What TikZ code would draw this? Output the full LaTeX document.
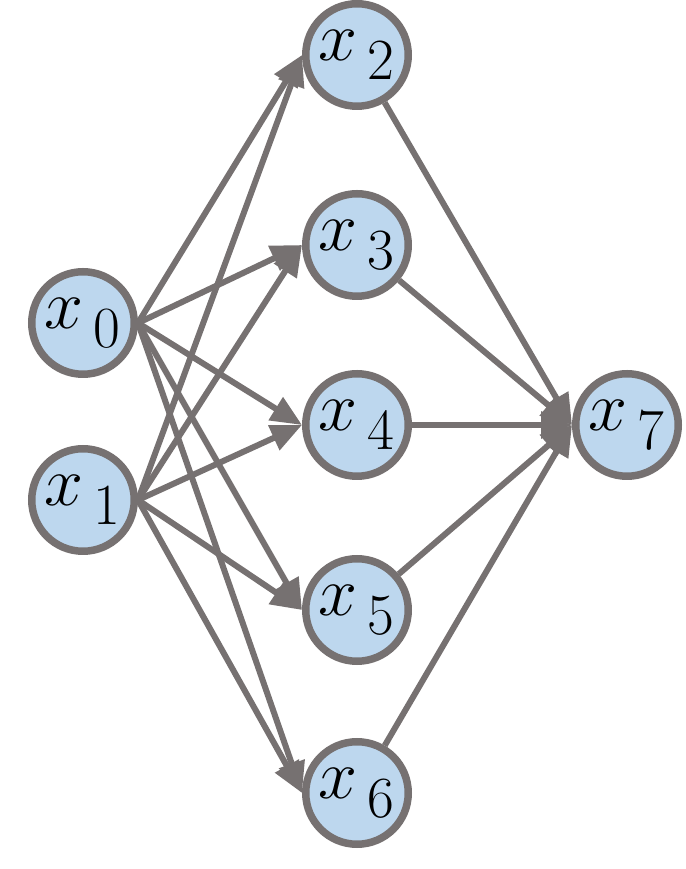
\documentclass[tikz,border=0pt]{standalone}
\usepackage{amsmath}
\usepackage{graphicx}
\usetikzlibrary{arrows.meta}
\definecolor{cEdge}{HTML}{767171}
\definecolor{cUnit}{HTML}{BDD7EE}
\tikzset{
  unit/.style={circle, draw=cEdge, fill=cUnit, line width=0.15cm,
               minimum size=2.05cm, inner sep=0pt, font=\Huge},
  ar/.style={-{Triangle[length=0.62cm 0 0, width=0.52cm 0 0]}, line width=0.12cm, cEdge},
}
\newcommand{\xu}[1]{\scalebox{1.6}{$x_{\,\raisebox{-0.3ex}{$\scriptstyle #1$}}$}}

\begin{document}
\begin{tikzpicture}[x=1cm, y=1cm]
    \useasboundingbox (0,0) rectangle (13.7,17.38);
    % --- inputs ---
    \node[unit] (x0) at (1.66,10.92) {\xu{0}};
    \node[unit] (x1) at (1.66,7.38)  {\xu{1}};

    % --- hidden layer ---
    \node[unit] (x2) at (7.14,16.28) {\xu{2}};
    \node[unit] (x3) at (7.14,12.48) {\xu{3}};
    \node[unit] (x4) at (7.14,8.88)  {\xu{4}};
    \node[unit] (x5) at (7.14,5.18)  {\xu{5}};
    \node[unit] (x6) at (7.14,1.52)  {\xu{6}};

    % --- output ---
    \node[unit] (x7) at (12.54,8.88) {\xu{7}};

    % --- connections ---
    \draw[ar] (x0.east) -- (x2.west);
    \draw[ar] (x0.east) -- (x3.west);
    \draw[ar] (x0.east) -- (x4.west);
    \draw[ar] (x0.east) -- (x5.west);
    \draw[ar] (x0.east) -- (x6.west);
    \draw[ar] (x1.east) -- (x2.west);
    \draw[ar] (x1.east) -- (x3.west);
    \draw[ar] (x1.east) -- (x4.west);
    \draw[ar] (x1.east) -- (x5.west);
    \draw[ar] (x1.east) -- (x6.west);
    \draw[ar] (x2) -- (x7.west);
    \draw[ar] (x3) -- (x7.west);
    \draw[ar] (x4) -- (x7.west);
    \draw[ar] (x5) -- (x7.west);
    \draw[ar] (x6) -- (x7.west);
  \end{tikzpicture}
\end{document}
